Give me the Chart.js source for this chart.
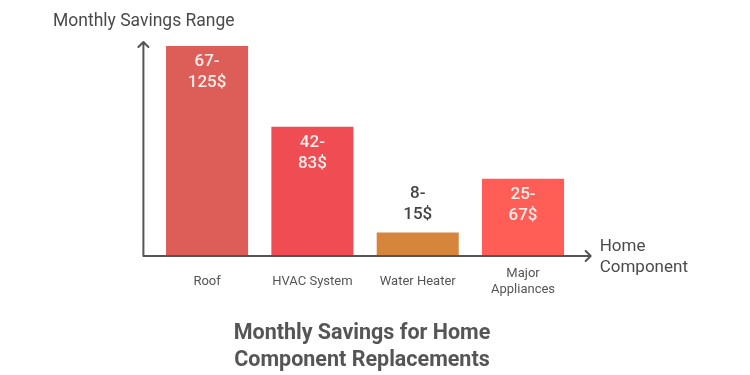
<!DOCTYPE html>
<html><head><meta charset="utf-8">
<script src="https://cdn.jsdelivr.net/npm/chart.js@4/dist/chart.umd.min.js"></script>
<style>html,body{margin:0;padding:0;background:#fff}#wrap{width:750px;height:375px;position:relative}</style>
</head><body><div id="wrap"><canvas id="c" width="750" height="375"></canvas></div>
<script>
const categories = [["Roof"], ["HVAC System"], ["Water Heater"], ["Major", "Appliances"]];
const barValues = [125, 77, 14, 46];
const rangeLabels = [["67-", "125$"], ["42-", "83$"], ["8-", "15$"], ["25-", "67$"]];
const barColors = ["#DD5E58", "#F04C53", "#D6863C", "#FF5E57"];
const yAxisTitle = "Monthly Savings Range";
const xAxisTitle = ["Home", "Component"];
const chartTitle = ["Monthly Savings for Home", "Component Replacements"];

const FONT = "Roboto, 'Open Sans', sans-serif";

const overlay = {
  id: 'overlay',
  afterDatasetsDraw(chart) {
    const ctx = chart.ctx;
    const a = chart.chartArea;
    const meta = chart.getDatasetMeta(0);
    const axisX = a.left - 11, axisY = a.bottom;
    ctx.save();
    // axes
    ctx.strokeStyle = '#555'; ctx.lineWidth = 2; ctx.lineCap = 'round'; ctx.lineJoin = 'round';
    ctx.beginPath();
    ctx.moveTo(axisX, axisY); ctx.lineTo(axisX, a.top - 4);
    ctx.moveTo(axisX - 5, a.top + 1); ctx.lineTo(axisX, a.top - 4); ctx.lineTo(axisX + 5, a.top + 1);
    ctx.moveTo(axisX, axisY); ctx.lineTo(a.right + 15, axisY);
    ctx.moveTo(a.right + 10, axisY - 5); ctx.lineTo(a.right + 15, axisY); ctx.lineTo(a.right + 10, axisY + 5);
    ctx.stroke();
    // value labels
    ctx.textAlign = 'center'; ctx.textBaseline = 'middle';
    meta.data.forEach((bar, i) => {
      const h = bar.base - bar.y;
      const lines = rangeLabels[i];
      ctx.font = '500 17px ' + FONT;
      if (h > 60) {
        ctx.fillStyle = '#FFEDEA';
        lines.forEach((t, j) => ctx.fillText(t, bar.x, bar.y + 16 + j * 21));
      } else {
        ctx.fillStyle = '#444';
        lines.forEach((t, j) => ctx.fillText(t, bar.x, bar.y - 18 - (lines.length - 1 - j) * 21));
      }
      // category labels
      ctx.fillStyle = '#555'; ctx.font = '13px ' + FONT;
      const cl = categories[i];
      const startY = axisY + 26 - (cl.length - 1) * 8;
      cl.forEach((t, j) => ctx.fillText(t, bar.x, startY + j * 16));
    });
    // axis titles
    ctx.fillStyle = '#4a4a4a'; ctx.font = '17.5px ' + FONT; ctx.textAlign = 'left';
    ctx.fillText(yAxisTitle, 53, 22);
    ctx.font = '17px ' + FONT;
    xAxisTitle.forEach((t, j) => ctx.fillText(t, a.right + 24, axisY - 9 + j * 21));
    // chart title
    ctx.fillStyle = '#555'; ctx.font = 'bold 21.5px ' + FONT; ctx.textAlign = 'center';
    chartTitle.forEach((t, j) => ctx.fillText(t, 362, 334 + j * 27));
    ctx.restore();
  }
};

new Chart(document.getElementById('c'), {
  type: 'bar',
  data: {
    labels: categories,
    datasets: [{ data: barValues, backgroundColor: barColors, borderWidth: 0, barPercentage: 0.779, categoryPercentage: 1 }]
  },
  options: {
    responsive: false, animation: false, devicePixelRatio: 1,
    layout: { padding: { left: 154.4, right: 174.3, top: 46, bottom: 119 } },
    plugins: { legend: { display: false }, tooltip: { enabled: false } },
    scales: {
      x: { display: false, offset: true },
      y: { display: false, min: 0, max: 125 }
    }
  },
  plugins: [overlay]
});
</script></body></html>
